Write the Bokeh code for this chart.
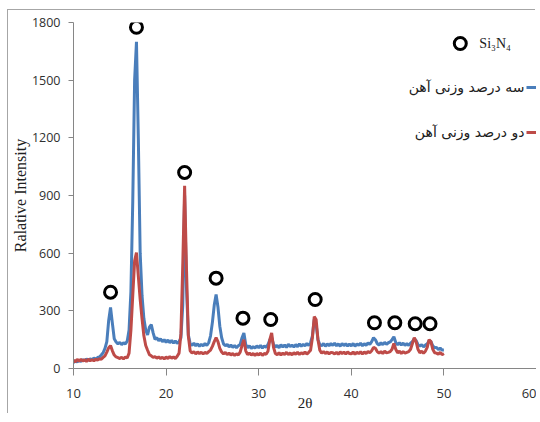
from bokeh.plotting import figure
from bokeh.models import Label, FixedTicker, Range1d
from bokeh.embed import file_html
from bokeh.resources import INLINE

two_theta = [
    10.0, 10.2, 10.4, 10.6, 10.8, 11.0, 11.2, 11.4, 11.6, 11.8,
    12.0, 12.2, 12.4, 12.6, 12.8, 13.0, 13.2, 13.4, 13.6, 13.8,
    14.0, 14.2, 14.4, 14.6, 14.8, 15.0, 15.2, 15.4, 15.6, 15.8,
    16.0, 16.2, 16.4, 16.6, 16.8, 17.0, 17.2, 17.4, 17.6, 17.8,
    18.0, 18.2, 18.4, 18.6, 18.8, 19.0, 19.2, 19.4, 19.6, 19.8,
    20.0, 20.2, 20.4, 20.6, 20.8, 21.0, 21.2, 21.4, 21.6, 21.8,
    22.0, 22.2, 22.4, 22.6, 22.8, 23.0, 23.2, 23.4, 23.6, 23.8,
    24.0, 24.2, 24.4, 24.6, 24.8, 25.0, 25.2, 25.4, 25.6, 25.8,
    26.0, 26.2, 26.4, 26.6, 26.8, 27.0, 27.2, 27.4, 27.6, 27.8,
    28.0, 28.2, 28.4, 28.6, 28.8, 29.0, 29.2, 29.4, 29.6, 29.8,
    30.0, 30.2, 30.4, 30.6, 30.8, 31.0, 31.2, 31.4, 31.6, 31.8,
    32.0, 32.2, 32.4, 32.6, 32.8, 33.0, 33.2, 33.4, 33.6, 33.8,
    34.0, 34.2, 34.4, 34.6, 34.8, 35.0, 35.2, 35.4, 35.6, 35.8,
    36.0, 36.2, 36.4, 36.6, 36.8, 37.0, 37.2, 37.4, 37.6, 37.8,
    38.0, 38.2, 38.4, 38.6, 38.8, 39.0, 39.2, 39.4, 39.6, 39.8,
    40.0, 40.2, 40.4, 40.6, 40.8, 41.0, 41.2, 41.4, 41.6, 41.8,
    42.0, 42.2, 42.4, 42.6, 42.8, 43.0, 43.2, 43.4, 43.6, 43.8,
    44.0, 44.2, 44.4, 44.6, 44.8, 45.0, 45.2, 45.4, 45.6, 45.8,
    46.0, 46.2, 46.4, 46.6, 46.8, 47.0, 47.2, 47.4, 47.6, 47.8,
    48.0, 48.2, 48.4, 48.6, 48.8, 49.0, 49.2, 49.4, 49.6, 49.8,
    50.0,
]

# 3 wt% Fe (blue)
intensity_3pct = [
    30, 40, 34, 44, 36, 46, 40, 49, 43, 50,
    46, 54, 49, 57, 60, 70, 82, 105, 140, 250,
    318, 235, 155, 138, 128, 136, 124, 134, 128, 142,
    200, 400, 870, 1500, 1700, 1200, 600, 380, 260, 200,
    175, 215, 228, 185, 152, 160, 144, 154, 140, 150,
    136, 148, 134, 146, 132, 144, 130, 140, 160, 330,
    900, 420, 175, 128, 120, 132, 118, 128, 116, 126,
    118, 130, 120, 134, 170, 240, 330, 385, 320, 220,
    160, 128, 118, 126, 112, 122, 110, 120, 108, 118,
    125, 160, 185, 125, 108, 118, 104, 114, 106, 118,
    108, 120, 106, 118, 110, 124, 150, 160, 125, 112,
    120, 108, 124, 112, 122, 110, 126, 114, 122, 112,
    124, 114, 128, 116, 126, 118, 130, 120, 134, 170,
    255, 230, 150, 125, 118, 130, 116, 128, 118, 130,
    120, 132, 118, 128, 116, 130, 119, 129, 117, 127,
    118, 130, 116, 128, 120, 132, 118, 129, 121, 133,
    126, 140, 160, 150, 130, 122, 134, 124, 136, 126,
    134, 138, 150, 165, 135, 124, 134, 122, 132, 120,
    130, 120, 132, 140, 155, 145, 125, 116, 124, 113,
    122, 128, 145, 140, 118, 108, 110, 98, 106, 96,
    96,
]

# 2 wt% Fe (red)
intensity_2pct = [
    44, 34, 47, 38, 48, 39, 46, 37, 48, 40,
    46, 40, 48, 44, 50, 48, 58, 66, 85, 108,
    119, 92, 70, 60, 56, 52, 58, 50, 60, 55,
    80, 200, 380, 560, 603, 480, 360, 260, 170, 120,
    95, 72, 66, 58, 62, 54, 60, 52, 58, 50,
    60, 52, 62, 54, 60, 52, 64, 80, 180, 540,
    950, 520, 170, 92, 80, 88, 76, 86, 78, 84,
    76, 84, 78, 88, 96, 115, 140, 160, 140, 105,
    86, 76, 84, 72, 80, 70, 78, 68, 76, 70,
    85, 120, 150, 92, 72, 80, 70, 78, 68, 78,
    70, 80, 68, 78, 74, 90, 150, 185, 110, 78,
    72, 82, 70, 80, 73, 84, 72, 81, 71, 82,
    74, 84, 73, 82, 76, 86, 75, 84, 95, 160,
    270, 255, 150, 95, 80, 88, 78, 86, 76, 84,
    82, 76, 84, 74, 86, 77, 85, 75, 86, 78,
    76, 86, 74, 85, 77, 87, 76, 86, 78, 88,
    82, 92, 110, 105, 88, 80, 88, 78, 90, 82,
    84, 88, 100, 130, 100, 82, 90, 78, 88, 80,
    84, 88, 100, 130, 160, 140, 100, 82, 90, 80,
    90, 110, 150, 140, 100, 82, 80, 74, 84, 72,
    78,
]

# Si3N4 peak markers (open circles above the peaks)
si3n4_peak_2theta = [14.0, 16.8, 22.0, 25.4, 28.3, 31.3, 36.1, 42.5, 44.7, 46.9, 48.5]
si3n4_marker_y = [397, 1775, 1020, 470, 262, 255, 359, 238, 238, 233, 233]

x_ticks = [10, 20, 30, 40, 50, 60]
y_ticks = [0, 300, 600, 900, 1200, 1500, 1800]

series_names = ["سه درصد وزنی آهن", "دو درصد وزنی آهن"]
blue = "#4A7EBB"
red = "#BE4B48"
axis_gray = "#868686"

p = figure(width=528, height=404,
           x_range=Range1d(10, 60), y_range=Range1d(0, 1800),
           output_backend="svg", toolbar_location=None,
           min_border_left=60, min_border_right=0,
           min_border_top=12, min_border_bottom=46)
p.styles = {"margin-left": "8px", "margin-top": "10px",
            "box-shadow": "-1px -1px 0 0 #a6a6a6"}
p.outline_line_color = None
p.xgrid.visible = False
p.ygrid.visible = False
p.background_fill_color = "white"
p.border_fill_color = "white"

p.xaxis.ticker = FixedTicker(ticks=x_ticks)
p.yaxis.ticker = FixedTicker(ticks=y_ticks)
for ax in (p.xaxis[0], p.yaxis[0]):
    ax.axis_line_color = axis_gray
    ax.major_tick_line_color = axis_gray
    ax.minor_tick_line_color = None
    ax.major_tick_in = 0
    ax.major_label_text_color = "#303030"
    ax.major_label_text_font = "Open Sans"
    ax.axis_label_text_font = "Liberation Serif"
    ax.axis_label_text_font_style = "normal"
    ax.axis_label_text_color = "#202020"

p.xaxis.major_tick_out = 7
p.xaxis.major_label_text_font_size = "13px"
p.xaxis.major_label_standoff = 13
p.xaxis.axis_label = "2θ"
p.xaxis.axis_label_text_font_size = "15px"
p.xaxis.axis_label_standoff = -6

p.yaxis.major_tick_out = 5
p.yaxis.major_label_text_font_size = "12.5px"
p.yaxis.major_label_standoff = 8
p.yaxis.axis_label = "Ralative Intensity"
p.yaxis.axis_label_text_font_size = "16px"
p.yaxis.axis_label_standoff = 0

p.line(two_theta, intensity_3pct, color=blue, line_width=3)
p.line(two_theta, intensity_2pct, color=red, line_width=3)

p.scatter(si3n4_peak_2theta, si3n4_marker_y, marker="circle", size=12,
          fill_color=None, line_color="black", line_width=3)

# legend (right-to-left keys as in the reference)
p.scatter([51.77], [1691], marker="circle", size=12,
          fill_color=None, line_color="black", line_width=3)
p.add_layout(Label(x=53.83, y=1691, text="Si₃N₄", text_font="Liberation Serif",
                   text_font_size="14px", text_baseline="middle", text_color="#202020"))
p.add_layout(Label(x=58.70, y=1462, text=series_names[0], text_align="right",
                   text_baseline="middle", text_font="DejaVu Sans",
                   text_font_size="14px", text_color="#202020"))
p.add_layout(Label(x=58.70, y=1228, text=series_names[1], text_align="right",
                   text_baseline="middle", text_font="DejaVu Sans",
                   text_font_size="14px", text_color="#202020"))
p.line([58.92, 60.0], [1462, 1462], color=blue, line_width=3)
p.line([58.92, 60.0], [1228, 1228], color=red, line_width=3)

open("out.html", "w").write(file_html(p, INLINE))
